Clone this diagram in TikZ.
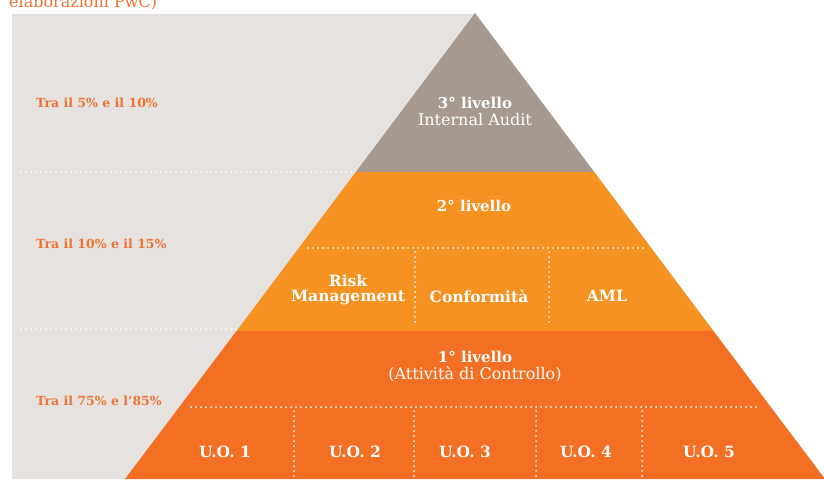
\documentclass[tikz,border=0pt]{standalone}
\usepackage{fontspec}
\setmainfont{DejaVu Serif}
\definecolor{bggrey}{HTML}{E5E2DF}
\definecolor{topgrey}{HTML}{A69A90}
\definecolor{midorange}{HTML}{F59222}
\definecolor{loworange}{HTML}{F36F23}
\definecolor{txtorange}{HTML}{F07232}
\tikzset{
  dotline/.style={white, line width=2pt, line cap=round, dash pattern=on 0pt off 5pt},
  sidelabel/.style={anchor=west, text=txtorange, font=\fontsize{12.5}{14}\selectfont\bfseries, inner sep=0pt},
  lvl/.style={text=white, font=\fontsize{15}{16}\selectfont\bfseries, inner sep=0pt, align=center},
  sub/.style={text=white, font=\fontsize{16}{16}\selectfont, inner sep=0pt},
  cell/.style={text=white, font=\fontsize{15.5}{15}\selectfont\bfseries, inner sep=0pt, align=center},
}
\begin{document}
\begin{tikzpicture}[x=1pt,y=-1pt]
\useasboundingbox (0,0) rectangle (824,479);
\clip (0,0) rectangle (824,479);
% caption remnant
\node[anchor=base west, text=txtorange, font=\fontsize{16}{16}\selectfont, inner sep=0pt] (cap) at (9,7) {elaborazioni PwC)};
% background
\fill[bggrey] (12,14) rectangle (476,479);
% pyramid layers
\coordinate (apex) at (475,13);
\fill[topgrey] (apex) -- (355.75,172) -- (594.25,172) -- cycle;
\fill[midorange] (355.75,172) -- (594.25,172) -- (713.5,331) -- (236.5,331) -- cycle;
\fill[loworange] (236.5,331) -- (713.5,331) -- (825,479) -- (125,479) -- cycle;
% dotted separators
\draw[dotline] (21,172) -- (353,172);
\draw[dotline] (21,329) -- (236,329);
\draw[dotline] (308,248) -- (647,248);
\draw[dotline] (415,252) -- (415,325);
\draw[dotline] (549,252) -- (549,325);
\draw[dotline] (191,407) -- (758,407);
\draw[dotline] (294,411) -- (294,479);
\draw[dotline] (414,411) -- (414,479);
\draw[dotline] (536,411) -- (536,479);
\draw[dotline] (642,411) -- (642,479);
% side labels
\node[sidelabel] (p3) at (36,103) {Tra il 5\% e il 10\%};
\node[sidelabel] (p2) at (36,244) {Tra il 10\% e il 15\%};
\node[sidelabel] (p1) at (36,401) {Tra il 75\% e l’85\%};
% level 3
\node[lvl] (l3) at (475,103) {3° livello};
\node[sub] (l3s) at (475,120) {Internal Audit};
% level 2
\node[lvl] (l2) at (474,206) {2° livello};
\node[cell] (rm) at (348,290) {Risk\\Management};
\node[cell] (cf) at (479,296) {Conformità};
\node[cell] (aml) at (607,296) {AML};
% level 1
\node[lvl] (l1) at (475,357) {1° livello};
\node[sub] (l1s) at (475,374) {(Attività di Controllo)};
\node[cell] (u1) at (225,452) {U.O. 1};
\node[cell] (u2) at (355,452) {U.O. 2};
\node[cell] (u3) at (465,452) {U.O. 3};
\node[cell] (u4) at (586,452) {U.O. 4};
\node[cell] (u5) at (709,452) {U.O. 5};
\end{tikzpicture}
\end{document}
